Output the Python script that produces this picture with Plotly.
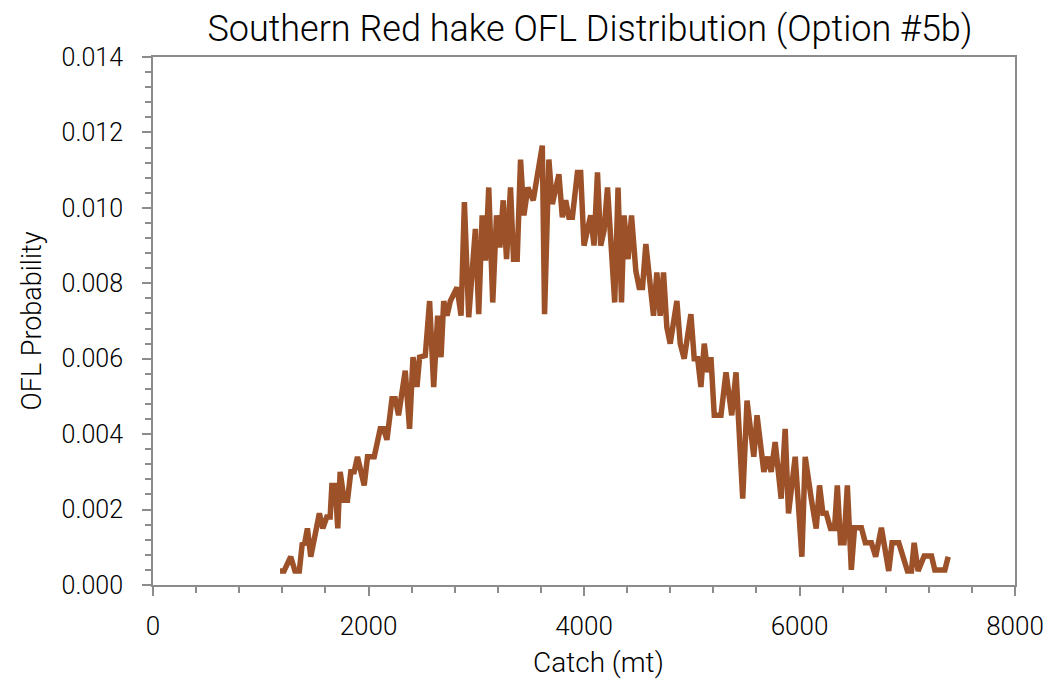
import plotly.graph_objects as go

catch = [1179, 1216, 1278, 1318, 1358, 1386, 1405, 1433, 1464, 1544,
         1576, 1613, 1644, 1660, 1690, 1715, 1737, 1774, 1805, 1836,
         1867, 1898, 1960, 1991, 2053, 2109, 2140, 2171, 2218, 2248,
         2279, 2341, 2381, 2413, 2450, 2474, 2527, 2567, 2605, 2642,
         2673, 2698, 2729, 2760, 2822, 2859, 2890, 2930, 2992, 3023,
         3055, 3086, 3116, 3153, 3188, 3219, 3250, 3281, 3318, 3346,
         3380, 3411, 3442, 3479, 3529, 3613, 3634, 3674, 3706, 3767,
         3799, 3830, 3860, 3892, 3939, 3969, 4000, 4062, 4093, 4125,
         4155, 4186, 4218, 4285, 4316, 4348, 4372, 4409, 4441, 4481,
         4512, 4543, 4574, 4645, 4676, 4707, 4738, 4769, 4800, 4832,
         4862, 4893, 4930, 4992, 5023, 5055, 5085, 5116, 5148, 5178,
         5209, 5271, 5318, 5371, 5411, 5473, 5513, 5576, 5606, 5669,
         5706, 5737, 5774, 5830, 5867, 5898, 5960, 6022, 6053, 6109,
         6155, 6186, 6217, 6248, 6288, 6325, 6351, 6381, 6413, 6444,
         6481, 6511, 6574, 6611, 6667, 6707, 6760, 6828, 6859, 6921,
         7002, 7039, 7064, 7101, 7157, 7225, 7256, 7349, 7380]

probability = [0.00037, 0.00037, 0.00075, 0.00037, 0.00037, 0.00112, 0.00106, 0.0015, 0.00075, 0.0019,
               0.0015, 0.0018, 0.0018, 0.00264, 0.00264, 0.0015, 0.003, 0.00225, 0.00225, 0.003,
               0.003, 0.0034, 0.00264, 0.0034, 0.0034, 0.00414, 0.00414, 0.00385, 0.00494, 0.00494,
               0.0045, 0.00568, 0.00414, 0.00604, 0.00525, 0.00604, 0.00608, 0.00753, 0.00525, 0.00714,
               0.00604, 0.00753, 0.00714, 0.00753, 0.00789, 0.00714, 0.01015, 0.0071, 0.00944, 0.00718,
               0.0098, 0.0086, 0.01054, 0.00749, 0.0098, 0.00895, 0.0102, 0.00864, 0.01054, 0.00864,
               0.00864, 0.01128, 0.0098, 0.01054, 0.0102, 0.01165, 0.00718, 0.01128, 0.0101, 0.01089,
               0.00975, 0.0102, 0.00975, 0.00975, 0.01094, 0.01094, 0.009, 0.0098, 0.009, 0.01094,
               0.009, 0.0094, 0.01054, 0.00749, 0.01054, 0.00749, 0.0098, 0.00864, 0.0098, 0.00833,
               0.00789, 0.00789, 0.00904, 0.00714, 0.00829, 0.00714, 0.00829, 0.00683, 0.0064, 0.0071,
               0.00753, 0.0064, 0.006, 0.00718, 0.006, 0.006, 0.00525, 0.0064, 0.00564, 0.00604,
               0.0045, 0.0045, 0.00564, 0.0045, 0.00564, 0.00229, 0.00489, 0.0034, 0.0045, 0.003,
               0.0034, 0.003, 0.00379, 0.00229, 0.00414, 0.0019, 0.0034, 0.00075, 0.0034, 0.00229,
               0.0015, 0.00264, 0.0019, 0.0019, 0.0015, 0.0015, 0.00264, 0.00112, 0.00112, 0.00264,
               0.0004, 0.00152, 0.00152, 0.00112, 0.00112, 0.00075, 0.00152, 0.00037, 0.00112, 0.00112,
               0.00037, 0.00037, 0.00112, 0.00037, 0.00077, 0.00077, 0.0004, 0.0004, 0.00075]

x_ticks = [0, 2000, 4000, 6000, 8000]
y_ticks = [0.000, 0.002, 0.004, 0.006, 0.008, 0.010, 0.012, 0.014]

FONT = "Roboto, Liberation Sans Narrow, Arial Narrow, sans-serif"
AXIS_COLOR = "#8c8c8c"
W = 300

fig = go.Figure()
fig.add_trace(go.Scatter(
    x=catch, y=probability, mode="lines",
    line=dict(color="#9c5128", width=5.5, shape="linear"),
    hoverinfo="skip", showlegend=False,
))

fig.update_layout(
    width=1048, height=681,
    margin=dict(l=153, r=33, t=57, b=96, autoexpand=False),
    paper_bgcolor="white", plot_bgcolor="white",
    font=dict(family=FONT, color="black", size=26, weight=W),
    title=dict(text="Southern Red hake OFL Distribution (Option #5b)",
               font=dict(family=FONT, size=36, color="black", weight=W),
               x=0.563, xanchor="center", y=0.958, yanchor="middle"),
    annotations=[dict(text="Catch (mt)", xref="paper", yref="paper",
                      x=0.517, y=-0.146, xanchor="center", yanchor="middle",
                      showarrow=False,
                      font=dict(family=FONT, size=28, color="black", weight=W))],
)

fig.update_xaxes(
    range=[0, 8000], tickvals=x_ticks, ticktext=[str(v) for v in x_ticks],
    showgrid=False, zeroline=False, automargin=False,
    showline=True, linecolor=AXIS_COLOR, linewidth=2, mirror=True,
    ticks="outside", ticklen=9, tickwidth=2, tickcolor=AXIS_COLOR,
    ticklabelstandoff=8,
    minor=dict(dtick=400, tick0=0, ticks="outside", ticklen=6, tickwidth=2,
               tickcolor=AXIS_COLOR, showgrid=False),
    tickfont=dict(family=FONT, size=26, color="black", weight=W),
)

fig.update_yaxes(
    range=[0, 0.014], tickvals=y_ticks, ticktext=[f"{v:.3f}" for v in y_ticks],
    showgrid=False, zeroline=False, automargin=False,
    showline=True, linecolor=AXIS_COLOR, linewidth=2, mirror=True,
    ticks="outside", ticklen=9, tickwidth=2, tickcolor=AXIS_COLOR,
    ticklabelstandoff=14,
    minor=dict(dtick=0.0004, tick0=0, ticks="outside", ticklen=6, tickwidth=2,
               tickcolor=AXIS_COLOR, showgrid=False),
    tickfont=dict(family=FONT, size=25, color="black", weight=W),
    title=dict(text="OFL Probability", font=dict(family=FONT, size=27, color="black", weight=W), standoff=12),
)

fig.write_html("out.html")
